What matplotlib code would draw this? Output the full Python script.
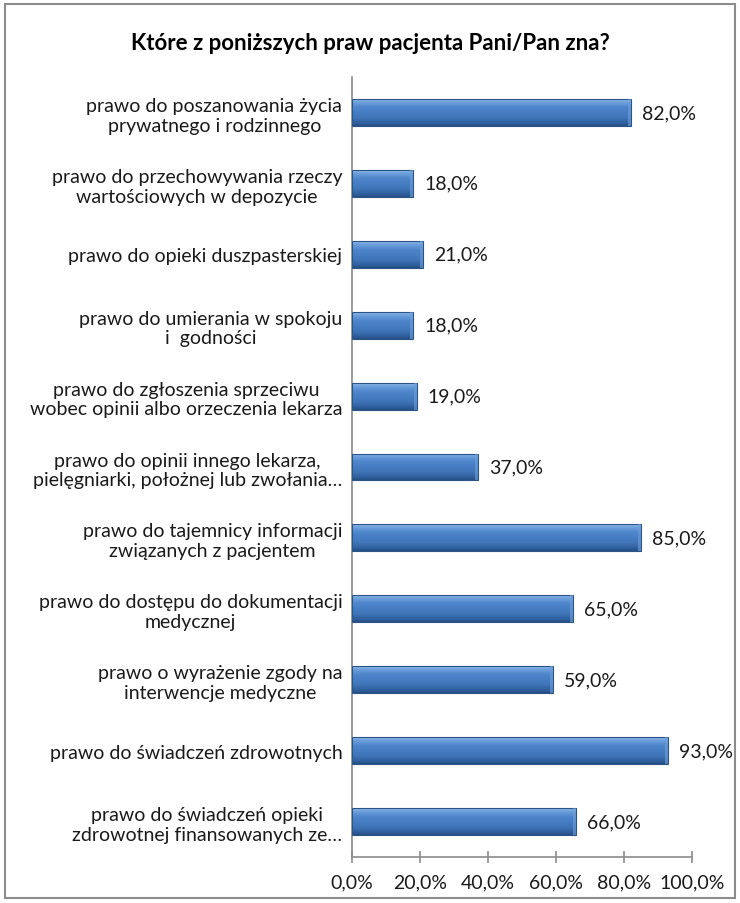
import matplotlib
matplotlib.use("Agg")
import matplotlib.pyplot as plt
import numpy as np
from matplotlib.colors import LinearSegmentedColormap
from matplotlib.patches import Rectangle
from matplotlib.ticker import FuncFormatter

title = "Które z poniższych praw pacjenta Pani/Pan zna?"
categories = [
    "prawo do poszanowania życia\nprywatnego i rodzinnego",
    "prawo do przechowywania rzeczy\nwartościowych w depozycie",
    "prawo do opieki duszpasterskiej",
    "prawo do umierania w spokoju\ni  godności",
    "prawo do zgłoszenia sprzeciwu\nwobec opinii albo orzeczenia lekarza",
    "prawo do opinii innego lekarza,\npielęgniarki, położnej lub zwołania…",
    "prawo do tajemnicy informacji\nzwiązanych z pacjentem",
    "prawo do dostępu do dokumentacji\nmedycznej",
    "prawo o wyrażenie zgody na\ninterwencje medyczne",
    "prawo do świadczeń zdrowotnych",
    "prawo do świadczeń opieki\nzdrowotnej finansowanych ze…",
]
values = [82.0, 18.0, 21.0, 18.0, 19.0, 37.0, 85.0, 65.0, 59.0, 93.0, 66.0]
xticks = [0, 20, 40, 60, 80, 100]

plt.rcParams['font.family'] = ['Lato', 'DejaVu Sans']

fig = plt.figure(figsize=(7.4, 9.04), dpi=100)
ax = fig.add_axes([0.4757, 0.0509, 0.4595, 0.8628])

# figure frame
fig.patches.append(Rectangle((0.007, 0.006), 0.986, 0.988, transform=fig.transFigure,
                             fill=False, edgecolor='#8c8c8c', linewidth=1.5))

y = np.arange(len(categories))
bars = ax.barh(y, values, height=0.38, color='#4f81bd', edgecolor='none', zorder=2)

cmap = LinearSegmentedColormap.from_list('bev', [
    (0.0, '#8fb8e8'), (0.12, '#6d9fdc'), (0.3, '#4f86cc'),
    (0.7, '#3f74b8'), (0.9, '#2f5f9c'), (1.0, '#264f85')])
grad = np.linspace(0, 1, 64).reshape(-1, 1)
for b in bars:
    x0, y0 = b.get_x(), b.get_y()
    w, h = b.get_width(), b.get_height()
    im = ax.imshow(grad, cmap=cmap, aspect='auto', extent=(x0, x0 + w, y0 + h, y0),
                   zorder=3, interpolation='bilinear')
    im.set_clip_path(b)
    ax.add_patch(Rectangle((x0, y0), w, h, fill=False, edgecolor='#2b5589', linewidth=0.8, zorder=4))
    ax.add_patch(Rectangle((x0 + w - 0.9, y0), 0.9, h, color='#6f9fd8', alpha=0.6, zorder=4, linewidth=0))

for yi, v in zip(y, values):
    ax.text(v + 3.2, yi, f"{v:.1f}%".replace('.', ','), va='center', ha='left',
            fontsize=14, color='#1a1a1a')

ax.set_xlim(0, 100)
ax.set_ylim(len(categories) - 0.5, -0.5)
ax.set_xticks(xticks)
ax.xaxis.set_major_formatter(FuncFormatter(lambda v, p: f"{v:.1f}%".replace('.', ',')))
ax.set_yticks(y)
ax.set_yticklabels(categories, multialignment='center', linespacing=1.2)
ax.tick_params(axis='y', length=0, pad=7, labelsize=14, labelcolor='#1a1a1a')
ax.tick_params(axis='x', direction='inout', length=8, width=1.2, color='#8c8c8c',
               pad=8, labelsize=14, labelcolor='#1a1a1a')
for s in ['top', 'right']:
    ax.spines[s].set_visible(False)
for s in ['left', 'bottom']:
    ax.spines[s].set_color('#8c8c8c')
    ax.spines[s].set_linewidth(1.2)

fig.text(0.5, 0.952, title, ha='center', va='center', fontsize=16, fontweight='bold',
         color='#000000')

fig.savefig('out.png', dpi=100)
